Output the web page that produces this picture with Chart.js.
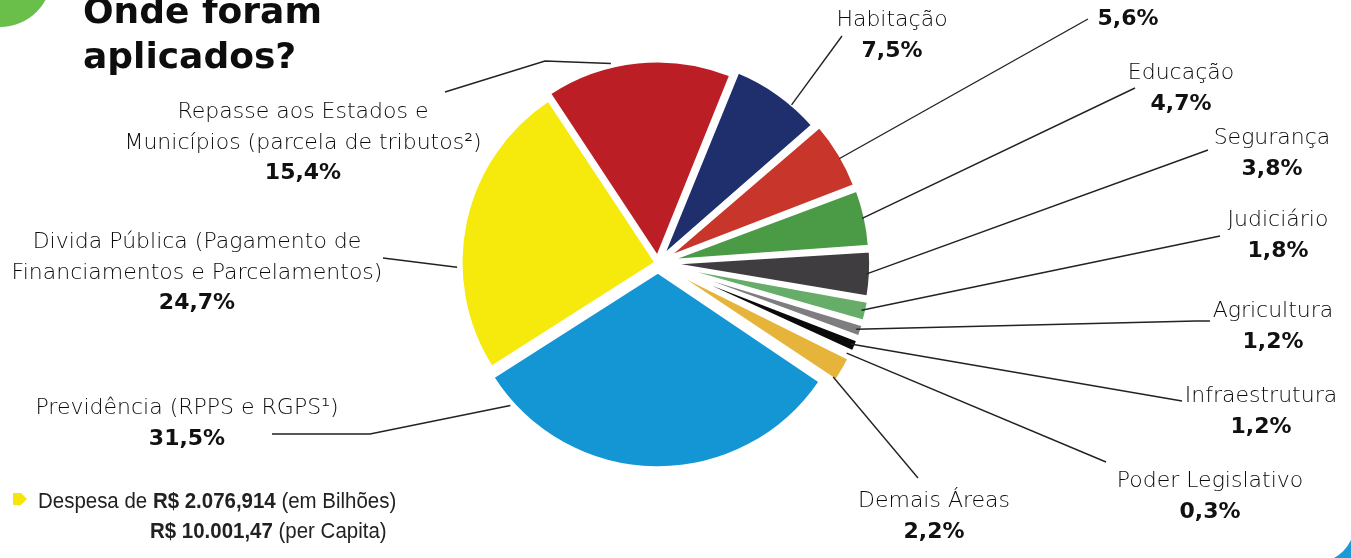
<!DOCTYPE html>
<html><head><meta charset="utf-8">
<script src="https://cdn.jsdelivr.net/npm/chart.js@4.4.1/dist/chart.umd.min.js"></script>
<style>html,body{margin:0;padding:0;background:#fff;overflow:hidden}#wrap{position:relative;width:1351px;height:558px}</style>
</head><body><div id="wrap"><canvas id="c" width="1351" height="558"></canvas></div>
<script>
// ---- data ----
const categories = ['Habitação','Saúde','Educação','Segurança','Judiciário','Agricultura','Infraestrutura','Poder Legislativo','Demais Áreas','Previdência (RPPS e RGPS¹)','Divida Pública (Pagamento de Financiamentos e Parcelamentos)','Repasse aos Estados e Municípios (parcela de tributos²)'];
const shares = [7.5, 5.6, 4.7, 3.8, 1.8, 1.2, 1.2, 0.3, 2.2, 31.5, 24.7, 15.4];
const shareLabels = ['7,5%','5,6%','4,7%','3,8%','1,8%','1,2%','1,2%','0,3%','2,2%','31,5%','24,7%','15,4%'];
const nameLines = [['Habitação'],['Saúde'],['Educação'],['Segurança'],['Judiciário'],['Agricultura'],['Infraestrutura'],['Poder Legislativo'],['Demais Áreas'],['Previdência (RPPS e RGPS¹)'],['Divida Pública (Pagamento de','Financiamentos e Parcelamentos)'],['Repasse aos Estados e','Municípios (parcela de tributos²)']];
const titleLines = ['Onde foram','aplicados?'];
const footerLine1 = [['Despesa de ',false],['R$ 2.076,914',true],[' (em Bilhões)',false]];
const footerLine2 = [['R$ 10.001,47',true],[' (per Capita)',false]];

// ---- styles / layout ----
const colors = ['#1f2f6e','#c8362b','#4a9a46','#403d40','#66ad6a','#7f7d80','#0a0a0a','#a51d24','#e6b43a','#1596d4','#f5ea0c','#bb1e24'];
const offsets = [8,10,10,10,10,10,10,10,10,9,2,6];
const labelLayout = [
  {x:892,y:26,frac:0.68,path:[[842,36]]},
  {x:1128,y:-6,frac:0.55,path:[[1088,19]]},
  {x:1181,y:79,frac:0.5,path:[[1135,88]]},
  {x:1272,y:144,frac:0.5,path:[[1208,150]]},
  {x:1278,y:226,frac:0.5,path:[[1220,236]]},
  {x:1273,y:317,frac:0.5,path:[[1210,321],[1196,321]]},
  {x:1261,y:402,frac:0.5,path:[[1182,401]]},
  {x:1210,y:487,frac:0.5,path:[[1106,462]]},
  {x:934,y:507,frac:0.9,path:[[918,478]]},
  {x:187,y:414,frac:0.915,path:[[272,434],[370,434]]},
  {x:197,y:248,frac:0.35,path:[[383,258]]},
  {x:303,y:118,frac:0.36,path:[[445,92],[545,61]]}
];
const LINE_H = 30.5;
const NAME_FONT = '200 22px "DejaVu Sans"';
const PCT_FONT = 'bold 22px "DejaVu Sans"';

const labelsPlugin = {
  id: 'labels',
  beforeDraw(chart) {
    const ctx = chart.ctx;
    ctx.save();
    ctx.fillStyle = '#6abf4b';
    ctx.beginPath(); ctx.arc(0, -25, 52, 0, Math.PI * 2); ctx.fill();
    ctx.fillStyle = '#1a9ad6';
    ctx.beginPath(); ctx.moveTo(1351, 540); ctx.quadraticCurveTo(1345, 552, 1334, 558); ctx.lineTo(1351, 558); ctx.closePath(); ctx.fill();
    ctx.restore();
  },
  afterDraw(chart) {
    const ctx = chart.ctx;
    const arcs = chart.getDatasetMeta(0).data;
    ctx.save();
    ctx.strokeStyle = '#222';
    ctx.lineWidth = 1.4;
    arcs.forEach((arc, i) => {
      const L = labelLayout[i];
      const p = arc.getProps(['x','y','startAngle','endAngle','outerRadius'], true);
      const a = p.startAngle + (p.endAngle - p.startAngle) * L.frac;
      const off = offsets[i];
      const mid = (p.startAngle + p.endAngle) / 2;
      const cx = p.x + Math.cos(mid) * off, cy = p.y + Math.sin(mid) * off;
      const r = p.outerRadius + 4;
      ctx.beginPath();
      ctx.moveTo(L.path[0][0], L.path[0][1]);
      for (let k = 1; k < L.path.length; k++) ctx.lineTo(L.path[k][0], L.path[k][1]);
      ctx.lineTo(cx + Math.cos(a) * r, cy + Math.sin(a) * r);
      ctx.stroke();
      ctx.textAlign = 'center';
      ctx.textBaseline = 'alphabetic';
      ctx.fillStyle = '#0a0a0a';
      ctx.font = NAME_FONT;
      const lines = nameLines[i];
      lines.forEach((t, k) => ctx.fillText(t, L.x, L.y + k * LINE_H));
      ctx.fillStyle = '#111';
      ctx.font = PCT_FONT;
      ctx.fillText(shareLabels[i], L.x, L.y + lines.length * LINE_H);
    });
    ctx.textAlign = 'left';
    ctx.fillStyle = '#0d0d0d';
    ctx.font = 'bold 36px "DejaVu Sans"';
    ctx.fillText(titleLines[0], 83, 23);
    ctx.fillText(titleLines[1], 83, 68);
    ctx.fillStyle = '#f5e50a';
    ctx.beginPath(); ctx.moveTo(13, 493); ctx.lineTo(21, 493); ctx.lineTo(27, 499); ctx.lineTo(21, 505); ctx.lineTo(13, 505); ctx.closePath(); ctx.fill();
    const SX = 0.93;
    const drawRuns = (runs, x, y) => {
      ctx.save();
      ctx.translate(x, y);
      ctx.scale(SX, 1);
      let cx = 0;
      runs.forEach(([t, b]) => {
        ctx.font = (b ? 'bold ' : '') + '22px "Liberation Sans", Arial, sans-serif';
        ctx.fillStyle = '#222';
        ctx.fillText(t, cx, 0);
        cx += ctx.measureText(t).width;
      });
      ctx.restore();
    };
    drawRuns(footerLine1, 38, 508);
    drawRuns(footerLine2, 150, 538);
    ctx.restore();
  }
};

new Chart(document.getElementById('c'), {
  type: 'pie',
  data: {
    labels: categories,
    datasets: [{
      data: shares,
      backgroundColor: colors,
      borderColor: '#ffffff',
      borderWidth: 3,
      offset: offsets.map(o => o * 4),
      hoverOffset: 0
    }]
  },
  options: {
    responsive: false,
    animation: false,
    rotation: 22,
    radius: 195,
    layout: { padding: { left: 0, right: 35, top: 0, bottom: 32 } },
    plugins: { legend: { display: false }, tooltip: { enabled: false } },
    events: []
  },
  plugins: [labelsPlugin]
});
</script></body></html>
